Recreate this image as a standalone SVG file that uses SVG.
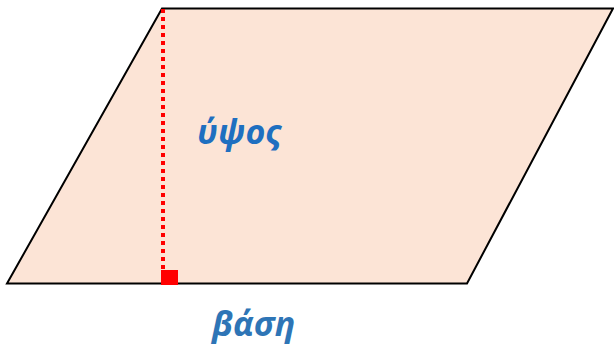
<svg xmlns="http://www.w3.org/2000/svg" width="614" height="349" viewBox="0 0 614 349">
<style>
.lbl{font-family:"Open Sans","DejaVu Sans",sans-serif;font-weight:bold;font-style:italic;font-size:34px}
</style>
<rect width="614" height="349" fill="#ffffff"/>
<g id="parallelogram">
<polygon points="162,8.5 613,8.5 467,283.5 7,283.5" fill="#fce4d6" stroke="#000000" stroke-width="2"/>
</g>
<g id="connectors">
<line x1="163" y1="9" x2="163" y2="270" stroke="#ff0000" stroke-width="4" stroke-dasharray="4,4"/>
<rect x="161" y="270" width="17" height="15" fill="#ff0000"/>
</g>
<g id="height-label">
<text class="lbl" x="197" y="144" fill="#1f6fc0">ύψος</text>
</g>
<g id="base-label">
<text class="lbl" x="212" y="336" fill="#2e75b6">βάση</text>
</g>
</svg>
